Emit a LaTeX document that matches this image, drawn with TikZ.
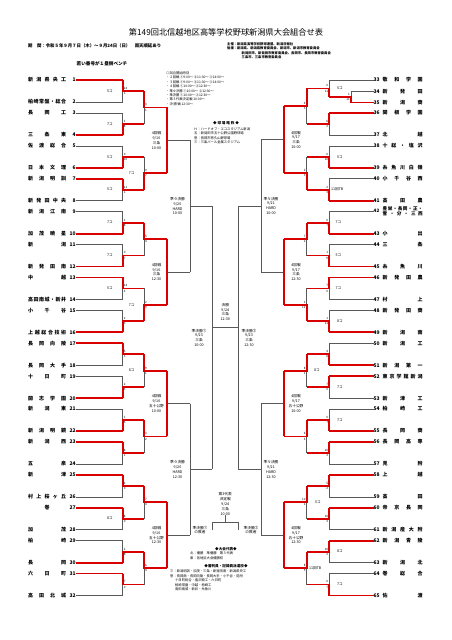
\documentclass[tikz,border=0pt]{standalone}
\usepackage{fontspec}
\setmainfont{Noto Sans CJK JP}
\pgfdeclarelayer{fg}
\pgfsetlayers{main,fg}
\def\spr#1{\sprA#1\relax}
\def\sprA#1#2{#1\ifx#2\relax\else\hfill\expandafter\sprA\expandafter#2\fi}
% match: x vertical, x next, ya, yb, mode (0 top wins,1 bottom wins,2 both reached,3 none)
\newcommand\match[5]{%
  \pgfmathsetmacro\ym{(#3+#4)/2}%
  \draw[gl] (#1,#3) -- (#1,#4);%
  \ifcase#5\relax
    \begin{pgfonlayer}{fg}\draw[rl] (#1,#3) -- (#1,\ym) -- (#2,\ym);\end{pgfonlayer}%
  \or
    \begin{pgfonlayer}{fg}\draw[rl] (#1,#4) -- (#1,\ym) -- (#2,\ym);\end{pgfonlayer}%
  \or
    \begin{pgfonlayer}{fg}\draw[rl] (#1,#3) -- (#1,#4);\end{pgfonlayer}\draw[gl] (#1,\ym) -- (#2,\ym);%
  \else
    \draw[gl] (#1,\ym) -- (#2,\ym);%
  \fi}
\newcommand\LT[3]{\node[tn,anchor=west] (t#1) at (28,#2) {\makebox[38pt]{\spr{#3}}\hspace{2.5pt}\makebox[7pt][r]{#1}};}
\newcommand\RT[3]{\node[tn,anchor=west] (t#1) at (373.5,#2) {\makebox[7pt][l]{#1}\hspace{2pt}\makebox[40pt]{\spr{#3}}};}
\newcommand\TL[4]{\ifnum#4=1 \begin{pgfonlayer}{fg}\draw[rl] (t#1.east) -- (#2,#3);\end{pgfonlayer}\else\draw[gl] (t#1.east) -- (#2,#3);\fi}
\newcommand\TR[4]{\ifnum#4=1 \begin{pgfonlayer}{fg}\draw[rl] (t#1.west) -- (#2,#3);\end{pgfonlayer}\else\draw[gl] (t#1.west) -- (#2,#3);\fi}
\newcommand\scL[5]{\pgfmathsetmacro\ym{(#2+#3)/2}\node[sc,anchor=west] at (#1+1,\ym-2.6) {#4};\node[sc,anchor=west] at (#1+1,\ym+2.6) {#5};}
\newcommand\scR[5]{\pgfmathsetmacro\ym{(#2+#3)/2}\node[sc,anchor=east] at (#1-1,\ym-2.6) {#4};\node[sc,anchor=east] at (#1-1,\ym+2.6) {#5};}
\begin{document}
\begin{tikzpicture}[x=1pt,y=-1pt]
\tikzset{
 gl/.style={draw=black!65,line width=0.6pt},
 rl/.style={draw=red!85!black,line width=1.8pt},
 tn/.style={inner sep=0pt,font=\bfseries\fontsize{5}{5}\selectfont},
 sc/.style={inner sep=0pt,font=\fontsize{3}{3}\selectfont},
 lab/.style={inner sep=0pt,font=\fontsize{3.7}{4.8}\selectfont,align=center},
 cg/.style={inner sep=0pt,font=\fontsize{3.6}{3.6}\selectfont},
 note/.style={inner sep=0pt,font=\fontsize{3.3}{4.4}\selectfont,align=left,anchor=north west},
}
\useasboundingbox[fill=white] (0,0) rectangle (452,640);
% ---------- header ----------
\node[inner sep=0pt,font=\fontsize{8.2}{9}\selectfont] (title) at (226,32) {第149回北信越地区高等学校野球新潟県大会組合せ表};
\node[inner sep=0pt,anchor=west,font=\bfseries\fontsize{4.4}{5}\selectfont] (period) at (28,46) {期\quad 間：令和５年９月７日（木）～９月24日（日）\quad 雨天順延あり};
\node[note,font=\bfseries\fontsize{3.3}{4.4}\selectfont] (org) at (227,42.5) {主催：新潟県高等学校野球連盟、新潟日報社\\後援：新潟県、新潟県教育委員会、新潟市、新潟市教育委員会\\\hspace*{4.4em}新発田市、新発田市教育委員会、長岡市、長岡市教育委員会\\\hspace*{4.4em}三条市、三条市教育委員会};
\node[inner sep=0pt,font=\bfseries\fontsize{4.6}{5}\selectfont] (bench) at (102,64) {若い番号が１塁側ベンチ};
\node[note] (times) at (166,71.5) {◎試合開始時刻\\・２回戦\ ①9:00〜\ ②11:30〜\ ③14:00〜\\・３回戦\ ①9:00〜\ ②11:30〜\ ③14:00〜\\・４回戦\ ①10:00〜\ ②12:30〜\\・準々決勝\ ①10:00〜\ ②12:30〜\\・準決勝\ ①10:00〜\ ②12:30〜\\・第３代表決定戦\ 10:00〜\\・決\ 勝\ 戦\ 12:30〜};
\node[inner sep=0pt,font=\bfseries\fontsize{3.6}{4}\selectfont] (parkh) at (226,123) {◆\ 球\ 場\ 略\ 称\ ◆};
\node[note] (parks) at (194,127.5) {Ｈ：ハードオフ・エコスタジアム新潟\\五：新発田市五十公野公園野球場\\悠：長岡市悠久山野球場\\三：三条パール金属スタジアム};
% ---------- left teams ----------
\LT{1}{80}{新潟県央工}\LT{2}{102}{柏崎常盤・総合}
\LT{3}{112.9}{長岡工}\LT{4}{134.9}{三条東}
\LT{5}{145.8}{佐渡総合}\LT{6}{167.8}{日本文理}
\LT{7}{178.7}{新潟明訓}\LT{8}{200.7}{新発田中央}
\LT{9}{211.6}{新潟江南}\LT{10}{233.6}{加茂暁星}
\LT{11}{244.5}{新潟}\LT{12}{266.5}{新発田南}
\LT{13}{277.4}{中越}\LT{14}{299.4}{高田南城・新井}
\LT{15}{310.3}{小千谷}\LT{16}{332.3}{上越総合技術}
\LT{17}{343.2}{長岡向陵}\LT{18}{365.2}{長岡大手}
\LT{19}{376.1}{十日町}\LT{20}{398.1}{開志学園}
\LT{21}{409}{新潟東}\LT{22}{431}{新潟明鏡}
\LT{23}{441.9}{新潟西}\LT{24}{463.9}{五泉}
\LT{25}{474.8}{新津}\LT{26}{496.8}{村上桜ヶ丘}
\LT{27}{507.7}{巻}\LT{28}{529.7}{加茂}
\LT{29}{540.6}{柏崎}\LT{30}{562.6}{長岡}
\LT{31}{573.5}{六日町}\LT{32}{595.5}{高田北城}
% left team lines
\TL{1}{122.7}{80}{1}\TL{2}{122.7}{102}{0}
\TL{3}{122.7}{112.9}{0}\TL{4}{122.7}{134.9}{1}
\TL{5}{122.7}{145.8}{0}\TL{6}{122.7}{167.8}{1}
\TL{7}{122.7}{178.7}{1}\TL{8}{122.7}{200.7}{0}
\TL{9}{122.7}{211.6}{0}\TL{10}{122.7}{233.6}{1}
\TL{11}{122.7}{244.5}{0}\TL{12}{122.7}{266.5}{1}
\TL{13}{122.7}{277.4}{1}\TL{14}{122.7}{299.4}{0}
\TL{15}{122.7}{310.3}{0}\TL{16}{122.7}{332.3}{1}
\TL{17}{122.7}{343.2}{1}\TL{18}{122.7}{365.2}{0}
\TL{19}{122.7}{376.1}{0}\TL{20}{122.7}{398.1}{1}
\TL{21}{122.7}{409}{0}\TL{22}{122.7}{431}{1}
\TL{23}{122.7}{441.9}{1}\TL{24}{122.7}{463.9}{0}
\TL{25}{122.7}{474.8}{1}\TL{26}{122.7}{496.8}{0}
\TL{27}{122.7}{507.7}{1}\TL{28}{122.7}{529.7}{0}
\TL{29}{122.7}{540.6}{0}\TL{30}{122.7}{562.6}{1}
\TL{31}{122.7}{573.5}{1}\TL{32}{122.7}{595.5}{0}
% left R2
\match{122.7}{144}{80}{102}{0}\match{122.7}{144}{112.9}{134.9}{1}
\match{122.7}{144}{145.8}{167.8}{1}\match{122.7}{144}{178.7}{200.7}{0}
\match{122.7}{144}{211.6}{233.6}{1}\match{122.7}{144}{244.5}{266.5}{1}
\match{122.7}{144}{277.4}{299.4}{0}\match{122.7}{144}{310.3}{332.3}{1}
\match{122.7}{144}{343.2}{365.2}{0}\match{122.7}{144}{376.1}{398.1}{1}
\match{122.7}{144}{409}{431}{1}\match{122.7}{144}{441.9}{463.9}{0}
\match{122.7}{144}{474.8}{496.8}{0}\match{122.7}{144}{507.7}{529.7}{0}
\match{122.7}{144}{540.6}{562.6}{1}\match{122.7}{144}{573.5}{595.5}{0}
% left R3
\match{144}{166.7}{91}{123.9}{0}\match{144}{166.7}{156.8}{189.7}{1}
\match{144}{166.7}{222.6}{255.5}{0}\match{144}{166.7}{288.4}{321.3}{1}
\match{144}{166.7}{354.2}{387.1}{0}\match{144}{166.7}{420}{452.9}{0}
\match{144}{166.7}{485.8}{518.7}{0}\match{144}{166.7}{551.6}{584.5}{0}
% left R4, QF
\match{166.7}{190}{107.45}{173.25}{2}\match{166.7}{190}{239.05}{304.85}{2}
\match{166.7}{190}{370.65}{436.45}{2}\match{166.7}{190}{502.25}{568.05}{2}
\match{190}{212.3}{140.35}{271.95}{3}\match{190}{212.3}{403.55}{535.15}{3}
\draw[gl] (212.3,206.15) -- (212.3,469.35);
% left scores
\scL{122.7}{80}{102}{14}{1}\scL{122.7}{112.9}{134.9}{1}{8}
\scL{122.7}{145.8}{167.8}{0}{10}\scL{122.7}{178.7}{200.7}{11}{1}
\scL{122.7}{211.6}{233.6}{1}{8}\scL{122.7}{244.5}{266.5}{0}{7}
\scL{122.7}{277.4}{299.4}{14}{4}\scL{122.7}{310.3}{332.3}{2}{3}
\scL{122.7}{343.2}{365.2}{5}{3}\scL{122.7}{376.1}{398.1}{2}{3}
\scL{122.7}{409}{431}{1}{5}\scL{122.7}{441.9}{463.9}{8}{1}
\scL{122.7}{474.8}{496.8}{4}{0}\scL{122.7}{507.7}{529.7}{8}{0}
\scL{122.7}{540.6}{562.6}{2}{8}\scL{122.7}{573.5}{595.5}{7}{0}
\scL{144}{91}{123.9}{3}{1}\scL{144}{156.8}{189.7}{0}{7}
\scL{144}{222.6}{255.5}{5}{4}\scL{144}{288.4}{321.3}{2}{9}
\scL{144}{354.2}{387.1}{9}{1}\scL{144}{420}{452.9}{3}{2}
\scL{144}{485.8}{518.7}{7}{4}\scL{144}{551.6}{584.5}{6}{4}
% left called-game labels
\node[cg] at (110,91) {5コ};\node[cg] at (110,123.9) {7コ};
\node[cg] at (110,156.8) {5コ};\node[cg] at (110,189.7) {5コ};
\node[cg] at (110,222.6) {7コ};\node[cg] at (110,255.5) {7コ};
\node[cg] at (110,288.4) {5コ};\node[cg] at (110,518.7) {8コ};
\node[cg] at (131.7,173.25) {7コ};\node[cg] at (131.7,304.85) {7コ};
\node[cg] at (131.7,370.65) {8コ};
% left round labels
\node[lab] (l4a) at (156.5,140.35) {4回戦\\9/16\\三条\\10:00};
\node[lab] (l4b) at (156.5,271.95) {4回戦\\9/16\\三条\\12:30};
\node[lab] (l4c) at (156.5,403.55) {4回戦\\9/16\\五十公野\\10:00};
\node[lab] (l4d) at (156.5,535.15) {4回戦\\9/16\\五十公野\\12:30};
\node[lab] (lqa) at (177.5,206.15) {準々決勝\\9/20\\HARD\\10:00};
\node[lab] (lqb) at (177.5,469.35) {準々決勝\\9/20\\HARD\\12:30};
\node[lab] (lsf) at (199,337.75) {準決勝①\\9/23\\三条\\10:00};
% ---------- right teams ----------
\RT{33}{80}{敬和学園}\RT{34}{91.3}{新発田}\RT{35}{102.5}{新潟商}
\RT{36}{112.9}{関根学園}\RT{37}{134.9}{北越}
\RT{38}{145.8}{十総・塩沢}\RT{39}{167.8}{糸魚川白嶺}
\RT{40}{178.7}{小千谷西}\RT{41}{200.7}{高田農}
\node[tn,anchor=west,font=\bfseries\fontsize{4.6}{5.2}\selectfont] (t42) at (373.5,211.6) {\makebox[7pt][l]{42}\hspace{2pt}\parbox{40pt}{\makebox[40pt]{\spr{豊栄・長岡・正・}}\\\makebox[40pt]{\spr{雪・分・三西}}}};
\RT{43}{233.6}{小出}
\RT{44}{244.5}{三条}\RT{45}{266.5}{糸魚川}
\RT{46}{277.4}{新発田農}\RT{47}{299.4}{村上}
\RT{48}{310.3}{新発田商}\RT{49}{332.3}{新潟南}
\RT{50}{343.2}{新潟工}\RT{51}{365.2}{新潟第一}
\RT{52}{376.1}{東京学館新潟}\RT{53}{398.1}{新津工}
\RT{54}{409}{柏崎工}\RT{55}{431}{長岡商}
\RT{56}{441.9}{長岡高専}\RT{57}{463.9}{見附}
\RT{58}{474.8}{上越}\RT{59}{496.8}{高田}
\RT{60}{507.7}{帝京長岡}\RT{61}{529.7}{新潟産大附}
\RT{62}{540.6}{新潟青陵}\RT{63}{562.6}{新潟北}
\RT{64}{573.5}{巻総合}\RT{65}{595.5}{佐渡}
% right team lines
\TR{33}{329.3}{80}{0}\TR{34}{351}{91.3}{0}\TR{35}{351}{102.5}{1}
\TR{36}{329.3}{112.9}{1}\TR{37}{329.3}{134.9}{0}
\TR{38}{329.3}{145.8}{0}\TR{39}{329.3}{167.8}{1}
\TR{40}{329.3}{178.7}{0}\TR{41}{329.3}{200.7}{1}
\TR{42}{329.3}{211.6}{0}\TR{43}{329.3}{233.6}{1}
\TR{44}{329.3}{244.5}{0}\TR{45}{329.3}{266.5}{1}
\TR{46}{329.3}{277.4}{1}\TR{47}{329.3}{299.4}{0}
\TR{48}{329.3}{310.3}{0}\TR{49}{329.3}{332.3}{1}
\TR{50}{329.3}{343.2}{0}\TR{51}{329.3}{365.2}{1}
\TR{52}{329.3}{376.1}{1}\TR{53}{329.3}{398.1}{0}
\TR{54}{329.3}{409}{0}\TR{55}{329.3}{431}{1}
\TR{56}{329.3}{441.9}{1}\TR{57}{329.3}{463.9}{0}
\TR{58}{329.3}{474.8}{1}\TR{59}{329.3}{496.8}{0}
\TR{60}{329.3}{507.7}{1}\TR{61}{329.3}{529.7}{0}
\TR{62}{329.3}{540.6}{1}\TR{63}{329.3}{562.6}{0}
\TR{64}{329.3}{573.5}{0}\TR{65}{329.3}{595.5}{1}
% right R1, R2
\match{351}{329.3}{91.3}{102.5}{1}
\match{329.3}{306.7}{80}{96.9}{1}\match{329.3}{306.7}{112.9}{134.9}{0}
\match{329.3}{306.7}{145.8}{167.8}{1}\match{329.3}{306.7}{178.7}{200.7}{1}
\match{329.3}{306.7}{211.6}{233.6}{1}\match{329.3}{306.7}{244.5}{266.5}{1}
\match{329.3}{306.7}{277.4}{299.4}{0}\match{329.3}{306.7}{310.3}{332.3}{1}
\match{329.3}{306.7}{343.2}{365.2}{1}\match{329.3}{306.7}{376.1}{398.1}{0}
\match{329.3}{306.7}{409}{431}{1}\match{329.3}{306.7}{441.9}{463.9}{0}
\match{329.3}{306.7}{474.8}{496.8}{0}\match{329.3}{306.7}{507.7}{529.7}{0}
\match{329.3}{306.7}{540.6}{562.6}{0}\match{329.3}{306.7}{573.5}{595.5}{1}
% right R3
\match{306.7}{284.3}{88.45}{123.9}{0}\match{306.7}{284.3}{156.8}{189.7}{1}
\match{306.7}{284.3}{222.6}{255.5}{0}\match{306.7}{284.3}{288.4}{321.3}{1}
\match{306.7}{284.3}{354.2}{387.1}{0}\match{306.7}{284.3}{420}{452.9}{0}
\match{306.7}{284.3}{485.8}{518.7}{0}\match{306.7}{284.3}{551.6}{584.5}{0}
% right R4, QF
\match{284.3}{261}{106.18}{173.25}{2}\match{284.3}{261}{239.05}{304.85}{2}
\match{284.3}{261}{370.65}{436.45}{2}\match{284.3}{261}{502.25}{568.05}{2}
\match{261}{238.3}{139.71}{271.95}{3}\match{261}{238.3}{403.55}{535.15}{3}
\draw[gl] (238.3,205.83) -- (238.3,469.35);
% right scores
\scR{351}{91.3}{102.5}{1}{11}
\scR{329.3}{80}{96.9}{0}{11}\scR{329.3}{112.9}{134.9}{6}{2}
\scR{329.3}{145.8}{167.8}{0}{10}\scR{329.3}{178.7}{200.7}{2}{3}
\scR{329.3}{211.6}{233.6}{0}{7}\scR{329.3}{244.5}{266.5}{1}{9}
\scR{329.3}{277.4}{299.4}{7}{0}\scR{329.3}{310.3}{332.3}{1}{11}
\scR{329.3}{343.2}{365.2}{4}{6}\scR{329.3}{376.1}{398.1}{7}{0}
\scR{329.3}{409}{431}{0}{7}\scR{329.3}{441.9}{463.9}{10}{3}
\scR{329.3}{474.8}{496.8}{5}{2}\scR{329.3}{507.7}{529.7}{10}{3}
\scR{329.3}{540.6}{562.6}{10}{2}\scR{329.3}{573.5}{595.5}{0}{7}
\scR{306.7}{88.45}{123.9}{4}{3}\scR{306.7}{156.8}{189.7}{2}{3}
\scR{306.7}{222.6}{255.5}{7}{2}\scR{306.7}{288.4}{321.3}{1}{11}
\scR{306.7}{354.2}{387.1}{8}{1}\scR{306.7}{420}{452.9}{6}{4}
\scR{306.7}{485.8}{518.7}{10}{2}\scR{306.7}{551.6}{584.5}{8}{9}
% right called-game labels
\node[cg] at (340,88.45) {5コ};\node[cg] at (340,156.8) {5コ};
\node[cg,anchor=west] at (331,189.7) {11回TB};
\node[cg] at (338.5,222.6) {7コ};\node[cg] at (338.5,255.5) {5コ};
\node[cg] at (338.5,288.4) {7コ};\node[cg] at (340,321.3) {8コ};
\node[cg] at (340,387.1) {7コ};\node[cg] at (340,420) {7コ};
\node[cg] at (340,551.6) {8コ};\node[cg] at (340,584.5) {7コ};
\node[cg] at (317,370.65) {8コ};\node[cg] at (318,502.25) {5コ};
\node[cg,anchor=west] at (309,568.05) {11回TB};
% right round labels
\node[lab] (r4a) at (296,139.71) {4回戦\\9/17\\三条\\10:00};
\node[lab] (r4b) at (296,271.95) {4回戦\\9/17\\三条\\12:30};
\node[lab] (r4c) at (296,403.55) {4回戦\\9/17\\五十公野\\10:00};
\node[lab] (r4d) at (296,535.15) {4回戦\\9/17\\五十公野\\12:30};
\node[lab] (rqa) at (271,205.83) {準々決勝\\9/21\\HARD\\10:00};
\node[lab] (rqb) at (271,469.35) {準々決勝\\9/21\\HARD\\12:30};
\node[lab] (rsf) at (249,337.75) {準決勝②\\9/23\\三条\\12:30};
% ---------- final ----------
\draw[gl] (212.3,327) -- (238.3,327);
\node[lab] (fin) at (225.3,312) {決勝\\9/24\\三条\\12:30};
% ---------- third place ----------
\node[lab] (third) at (225.3,504) {第3代表\\決定戦\\9/24\\三条\\10:00};
\coordinate (c3) at (225.3,515);
\draw[gl] (212.3,530) -- (212.3,522) -- (238.3,522) -- (238.3,530);
\draw[gl] (c3) -- (225.3,522);
\node[lab] (los1) at (200,530) {準決勝①\\の敗者};
\node[lab] (los2) at (251,530) {準決勝②\\の敗者};
% ---------- bottom notes ----------
\node[inner sep=0pt,font=\bfseries\fontsize{3.6}{4}\selectfont] (rep) at (226,549) {◆大会代表◆};
\node[note] (repl) at (190,552) {北：優勝\quad 準優勝\quad 第３代表\\東：各地区大会優勝校};
\node[inner sep=0pt,font=\bfseries\fontsize{3.6}{4}\selectfont] (ump) at (226,566) {◆審判員・記録員派遣校◆};
\node[note] (umpl) at (170,570) {三：新潟明訓・加茂・三条・新発田南・新潟県央工\\悠：長岡商・長岡向陵・長岡大手・小千谷・見附\\\hspace*{1.5em}十日町総合・塩沢商工・六日町\\\hspace*{1.5em}柏崎常盤・中越・柏崎工\\\hspace*{1.5em}高田南城・新井・糸魚川};
\end{tikzpicture}
\end{document}
